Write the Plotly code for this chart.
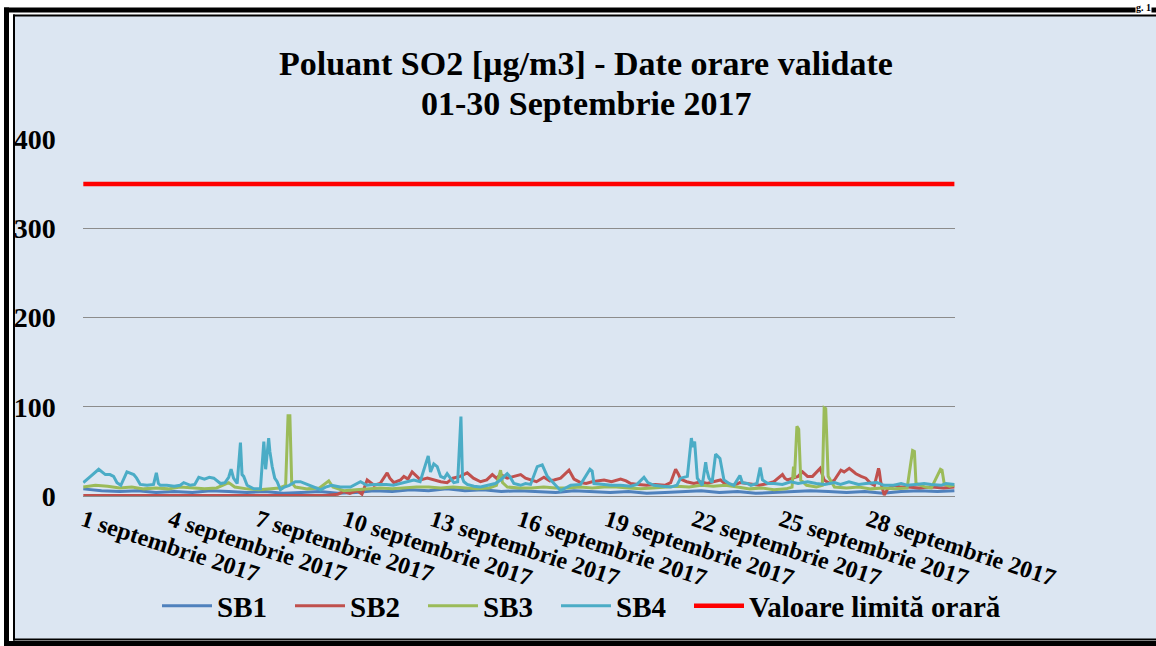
import plotly.graph_objects as go

# ---------------- data (hours since 1 Sep 2017 00:00, values in µg/m3) ----------------
sb1_hours = [0, 15, 30, 45, 60, 75, 90, 105, 120, 135, 150, 165, 180, 195, 210, 225, 240, 255,
             270, 285, 300, 315, 330, 345, 360, 375, 390, 405, 420, 435, 450, 465, 480, 495,
             510, 525, 540, 555, 570, 585, 600, 615, 630, 645, 660, 675, 690, 705, 719]
sb1_vals = [8, 6, 5, 6, 4, 5, 4, 6, 5, 4, 5, 3, 4, 5, 3, 4, 6, 5,
            7, 6, 8, 6, 7, 5, 6, 5, 4, 6, 5, 4, 5, 3, 4, 5,
            6, 4, 5, 3, 4, 5, 6, 5, 4, 5, 3, 5, 6, 5, 6]

sb2_hours = [0, 60, 120, 180, 200, 210, 215, 220, 226, 230, 234.3, 240, 245, 250.8, 253, 256.3,
             261.8, 264.6, 268, 271.4, 275, 278.3, 284, 289.3, 295, 300.3, 305, 311, 316.9, 322,
             327.9, 333, 337.6, 341, 344.4, 349.9, 355, 361, 365, 369.2, 374, 380.2, 385, 388.5,
             394, 400.9, 403, 405, 410.5, 415, 420, 425, 429.8, 436, 443.5, 448, 451.8, 458, 465,
             472, 480, 484.8, 488.9, 491, 493, 498, 504, 509.6, 515, 520, 526, 530, 537, 542, 548,
             551, 558, 565, 570, 577.1, 579, 581.2, 586, 590, 593.6, 597.8, 601.9, 605, 608.2,
             611.5, 616, 620, 625.3, 628, 632.2, 635, 637.7, 642, 645.9, 650.1, 653, 656.4, 657,
             658.3, 661.1, 664, 669.3, 675, 680, 690, 700, 710, 719]
sb2_vals = [0.5, 0.5, 0.5, 0.5, 0.5, 2, 5, 3, 6, 2, 18, 12, 14, 26, 20, 15,
            18, 22, 19, 27, 22, 18, 20, 18, 16, 15, 20, 22, 26, 20,
            16, 18, 24, 20, 24, 20, 22, 24, 20, 18, 16, 21, 17, 18,
            20, 29, 24, 19, 15, 14, 16, 17, 18, 16, 19, 17, 14, 13, 12,
            13, 12, 15, 30, 25, 19, 16, 14, 16, 14, 16, 18, 13, 12, 15, 14,
            13, 12, 14, 16, 24, 20, 18, 20, 22, 27, 22, 22, 26, 31,
            18, 14, 18, 29, 27, 31, 28, 25, 22, 20, 14, 12, 31, 28,
            15, 1, 8, 12, 10, 10, 9, 10, 9, 10]

sb3_hours = [0, 10, 20, 30, 40, 50, 60, 70, 80, 90, 100, 110, 120, 125, 135, 145, 155, 162, 167,
             169, 170.5, 172, 175, 185, 195, 202.6, 206, 215, 225, 235, 245, 255, 265, 275, 285,
             295, 305, 315, 325, 335, 341, 344.4, 346, 350, 360, 370, 380, 390, 400, 410, 420,
             430, 440, 450, 460, 470, 480, 490, 500, 510, 520, 530, 540, 550, 560, 570, 580, 585,
             586.2, 587, 589, 590.5, 592.2, 597, 605, 610, 611.5, 612.8, 614.8, 620, 630, 640,
             650, 660, 670, 680, 684.5, 686, 687.3, 695, 700, 707.5, 708.8, 710.7, 715, 719]
sb3_vals = [10, 12, 11, 9, 10, 8, 9, 8, 10, 9, 8, 9, 15, 10, 8, 7, 8, 9, 12,
            90, 90, 15, 10, 8, 9, 17, 10, 6, 7, 8, 9, 8, 9, 10, 10,
            9, 10, 9, 8, 9, 12, 29, 15, 10, 9, 9, 10, 9, 9, 10, 9,
            10, 10, 9, 8, 9, 10, 11, 10, 12, 11, 12, 10, 8, 9, 7, 8, 10,
            33, 20, 78, 75, 18, 12, 10, 12, 99, 98, 22, 10, 9, 10,
            8, 9, 8, 9, 51, 50, 14, 10, 9, 30, 29, 13, 11, 12]

sb4_hours = [0, 2, 6, 12.7, 15, 18.2, 22, 25, 27.8, 31, 36, 41.6, 44, 47, 52.6, 58, 60.3, 62,
             63.6, 69, 75, 80, 82.9, 88.4, 92, 95.3, 100, 104, 107.7, 113.2, 117, 120, 122, 124,
             127, 129.7, 131, 132.4, 135.2, 140.7, 146.2, 149, 150.5, 153, 154, 155.9, 158, 160,
             162.7, 166, 170, 175, 179.2, 183, 187.5, 192, 195.8, 200, 205, 212, 220.5, 228.8,
             234, 239.8, 250, 256, 262, 266, 272.8, 278, 284.7, 286.6, 289.3, 292.1, 294.9, 298,
             300.3, 303, 305.8, 309, 311.7, 313, 314.1, 316.9, 322.4, 327.9, 333.4, 340, 344.4,
             349.9, 352, 355.4, 360.9, 365, 369.2, 374.7, 378.8, 380.2, 383, 388.5, 394, 398,
             402.3, 410.5, 418.2, 420, 421.5, 429.8, 436, 443.5, 451.8, 457, 462.8, 466, 471,
             478, 484.8, 490, 493, 498.6, 501.9, 503, 504.6, 506.8, 510.9, 513.7, 514.5, 516.4,
             519, 521.9, 525.5, 528.8, 533, 537, 542, 544, 548.2, 551, 556, 558.7, 560.6, 565,
             570.2, 577, 584, 590, 597.8, 605, 612, 620, 625, 632, 640, 646, 655, 661, 669, 675,
             680, 687, 694, 700, 708, 712, 719]
sb4_vals = [15, 17, 22, 30, 27, 24, 24, 22, 15, 12, 27, 24, 20, 13, 12, 13, 26, 14,
            12, 12, 11, 12, 15, 12, 13, 21, 19, 21, 20, 14, 15, 21, 30, 20,
            14, 60, 24, 22, 12, 8, 8, 61, 30, 65, 50, 33, 20, 16,
            7, 10, 12, 16, 16, 14, 12, 9, 7, 10, 12, 10, 10, 16,
            12, 13, 13, 12, 14, 16, 18, 16, 45, 27, 36, 33, 22, 20,
            25, 20, 15, 16, 89, 20, 16, 13, 11, 10, 12, 14, 18,
            25, 22, 14, 12, 14, 13, 33, 35, 30, 22, 14, 6, 9,
            12, 13, 30, 28, 14, 13, 12, 12, 11, 13, 21, 15, 12,
            11, 10, 12, 20, 22, 65, 55, 61, 20, 12, 38, 30, 20,
            15, 47, 42, 18, 14, 12, 23, 15, 14, 12, 14, 32, 18, 14,
            14, 13, 16, 14, 16, 14, 13, 15, 13, 16, 13, 14, 15, 12, 12, 14,
            12, 13, 14, 13, 12, 14, 13]

limit_hours = [0, 719]
limit_vals = [350, 350]

series_names = ["SB1", "SB2", "SB3", "SB4", "Valoare limită orară"]
series_colors = ["#4F81BD", "#C0504D", "#9BBB59", "#4BACC6", "#FF0000"]

tick_days = [1, 4, 7, 10, 13, 16, 19, 22, 25, 28]
tick_hours = [(d - 1) * 24 for d in tick_days]
tick_labels = [f"{d} septembrie 2017" for d in tick_days]

title_line1 = "Poluant SO2 [µg/m3] - Date orare validate"
title_line2 = "01-30 Septembrie 2017"
corner_text = "g. 1"

# ---------------- figure ----------------
W, H = 1156, 646
def px(x):
    return x / W
def py(y):
    return 1 - y / H

FONT = "Liberation Serif, Times New Roman, serif"

fig = go.Figure()
data = [(sb1_hours, sb1_vals), (sb2_hours, sb2_vals), (sb3_hours, sb3_vals),
        (sb4_hours, sb4_vals), (limit_hours, limit_vals)]
for (xs, ys), name, col in zip(data, series_names, series_colors):
    is_limit = name.startswith("Valoare")
    tr = go.Scatter(
        x=xs, y=ys, name=name, mode="lines",
        line=dict(color=col, width=4.5 if is_limit else 3),
        hoverinfo="skip")
    if not is_limit:
        tr.legendwidth = 68
    fig.add_trace(tr)

def hline(y, x0, x1, w):
    return dict(type="line", xref="paper", yref="paper", layer="above",
                x0=px(x0), x1=px(x1), y0=py(y), y1=py(y),
                line=dict(color="black", width=w))

def vline(x, y0, y1, w):
    return dict(type="line", xref="paper", yref="paper", layer="above",
                x0=px(x), x1=px(x), y0=py(y0), y1=py(y1),
                line=dict(color="black", width=w))

fig.update_layout(
    width=W, height=H,
    margin=dict(l=0, r=0, t=0, b=0, autoexpand=False),
    paper_bgcolor="white",
    plot_bgcolor="white",
    showlegend=True,
    legend=dict(orientation="h", x=px(157), xanchor="left", y=py(606), yanchor="middle",
                font=dict(family=FONT, size=29, color="black", weight="bold"),
                bgcolor="rgba(0,0,0,0)", itemwidth=50, traceorder="normal"),
    xaxis=dict(domain=[px(82.7), px(955)], range=[-0.5, 719.5], automargin=False,
               tickmode="array", tickvals=tick_hours, ticktext=tick_labels,
               tickangle=18, showgrid=False, zeroline=False,
               showline=True, linecolor="#8C8C8C", linewidth=1, ticks="",
               tickfont=dict(family=FONT, size=24, color="black", weight="bold")),
    yaxis=dict(domain=[py(496), py(139.3)], range=[0, 400], automargin=False,
               tickmode="array", tickvals=[0, 100, 200, 300, 400],
               showgrid=True, gridcolor="#8C8C8C", gridwidth=1, zeroline=False,
               showline=False, ticks="", ticklabelstandoff=26,
               tickfont=dict(family=FONT, size=28, color="black", weight="bold")),
    shapes=[
        dict(type="rect", xref="paper", yref="paper", layer="below",
             x0=px(14), x1=1, y0=py(639.5), y1=py(15.5),
             fillcolor="#DCE6F2", line=dict(width=0)),
        # outer thick frame (left, top, bottom)
        vline(6.5, 7.5, 646, 5),
        hline(10, 4, W, 5),
        hline(643.5, 4, W, 5),
        # inner thin frame
        vline(14, 14.5, 640.5, 2),
        hline(15.5, 13, W, 2),
        hline(639.5, 13, W, 2),
    ],
    annotations=[
        dict(text=title_line1, xref="paper", yref="paper", x=px(586), y=py(63),
             xanchor="center", yanchor="middle", showarrow=False,
             font=dict(family=FONT, size=34, color="black", weight="bold")),
        dict(text=title_line2, xref="paper", yref="paper", x=px(586), y=py(104),
             xanchor="center", yanchor="middle", showarrow=False,
             font=dict(family=FONT, size=34, color="black", weight="bold")),
        dict(text=corner_text, xref="paper", yref="paper", x=px(1152), y=py(0.5),
             xanchor="right", yanchor="top", showarrow=False, bgcolor="white",
             borderpad=0,
             font=dict(family=FONT, size=10, color="black", weight="bold")),
    ],
)

fig.write_html(
    "out.html",
    config={"displayModeBar": False},
    post_script="document.body.style.margin='0';document.body.style.overflow='hidden';",
)
